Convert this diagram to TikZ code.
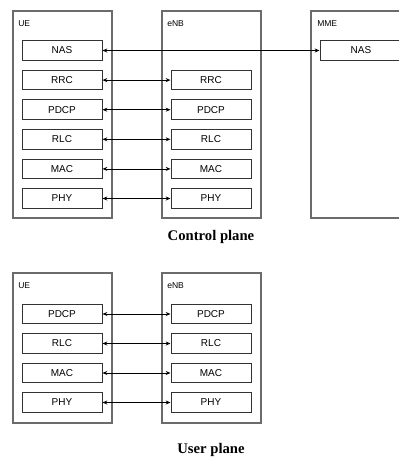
\documentclass[tikz,border=0pt]{standalone}
\usepackage{fontspec}
\setmainfont{Liberation Serif}
\setsansfont{Liberation Sans}
\usetikzlibrary{arrows.meta}
\begin{document}
\begin{tikzpicture}[x=0.75pt,y=-0.75pt,
  outerbox/.style={draw=black!58,line width=0.9pt},
  layerbox/.style={draw=black!80,line width=0.75pt,minimum width=60pt,minimum height=14.6pt,inner sep=0pt,font=\sffamily\fontsize{7.5}{8}\selectfont},
  boxlabel/.style={anchor=west,inner sep=0pt,font=\sffamily\fontsize{6.4}{7}\selectfont},
  title/.style={font=\bfseries\fontsize{11}{13}\selectfont},
  link/.style={draw=black,line width=0.6pt,{Stealth[length=3.6pt,width=3pt]}-{Stealth[length=3.6pt,width=3pt]}}]
\useasboundingbox (0,0) rectangle (399,458);
\clip (0,0) rectangle (399,458);
% Control plane
\draw[outerbox] (13,11) rectangle (112,218);
\draw[outerbox] (162,11) rectangle (261,218);
\draw[outerbox] (311,11) rectangle (405,218);
\node[boxlabel] (lue) at (18,24) {UE};
\node[boxlabel] (lenb) at (167,24) {eNB};
\node[boxlabel] (lmme) at (317,24) {MME};
\node[layerbox] (unas) at (62,50.5) {NAS};
\node[layerbox] (urrc) at (62,80.1) {RRC};
\node[layerbox] (updcp) at (62,109.7) {PDCP};
\node[layerbox] (urlc) at (62,139.3) {RLC};
\node[layerbox] (umac) at (62,168.9) {MAC};
\node[layerbox] (uphy) at (62,198.5) {PHY};
\node[layerbox] (errc) at (211,80.1) {RRC};
\node[layerbox] (epdcp) at (211,109.7) {PDCP};
\node[layerbox] (erlc) at (211,139.3) {RLC};
\node[layerbox] (emac) at (211,168.9) {MAC};
\node[layerbox] (ephy) at (211,198.5) {PHY};
\node[layerbox,minimum width=61.5pt] (mnas) at (361,50.5) {NAS};
\draw[link] (unas.east) -- (mnas.west);
\draw[link] (urrc.east) -- (errc.west);
\draw[link] (updcp.east) -- (epdcp.west);
\draw[link] (urlc.east) -- (erlc.west);
\draw[link] (umac.east) -- (emac.west);
\draw[link] (uphy.east) -- (ephy.west);
\node[title] (cp) at (211,237) {Control plane};
% User plane
\draw[outerbox] (13,273) rectangle (112,423);
\draw[outerbox] (162,273) rectangle (261,423);
\node[boxlabel] (lue2) at (18,286) {UE};
\node[boxlabel] (lenb2) at (167,286) {eNB};
\node[layerbox] (updcp2) at (62,314) {PDCP};
\node[layerbox] (urlc2) at (62,343.5) {RLC};
\node[layerbox] (umac2) at (62,373) {MAC};
\node[layerbox] (uphy2) at (62,402.5) {PHY};
\node[layerbox] (epdcp2) at (211,314) {PDCP};
\node[layerbox] (erlc2) at (211,343.5) {RLC};
\node[layerbox] (emac2) at (211,373) {MAC};
\node[layerbox] (ephy2) at (211,402.5) {PHY};
\draw[link] (updcp2.east) -- (epdcp2.west);
\draw[link] (urlc2.east) -- (erlc2.west);
\draw[link] (umac2.east) -- (emac2.west);
\draw[link] (uphy2.east) -- (ephy2.west);
\node[title] (up) at (211,450) {User plane};
\end{tikzpicture}
\end{document}
